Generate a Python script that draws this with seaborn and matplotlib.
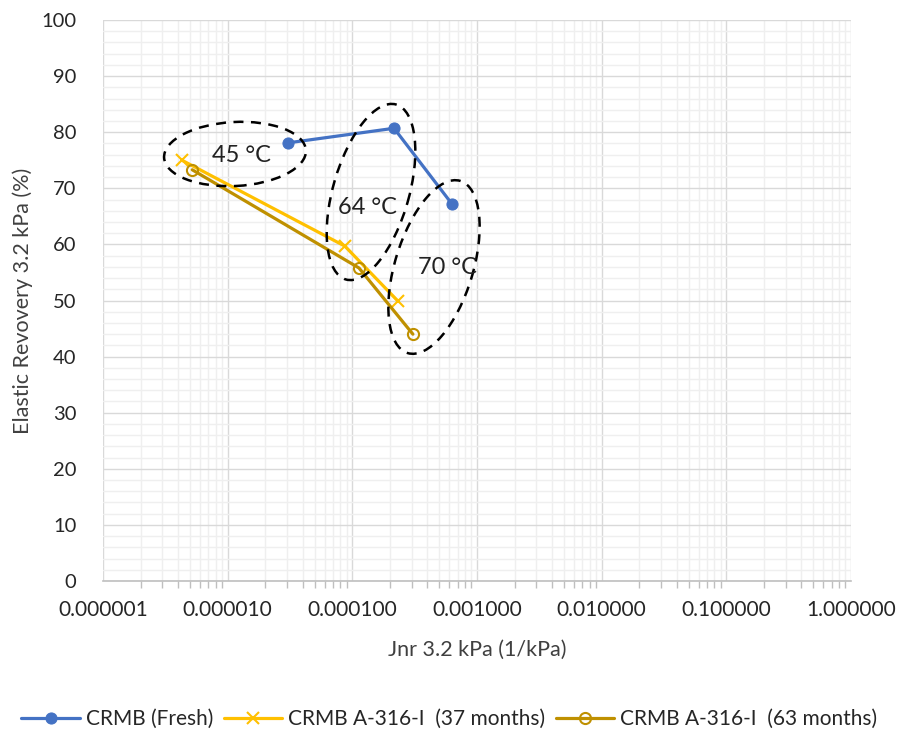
import numpy as np
import pandas as pd
import matplotlib
matplotlib.use("Agg")
import matplotlib.pyplot as plt
import seaborn as sns
from matplotlib.patches import Ellipse
from matplotlib.transforms import IdentityTransform
from matplotlib.ticker import LogLocator, FixedLocator, FuncFormatter

# ---- data ----
series_names = ["CRMB (Fresh)", "CRMB A-316-I  (37 months)", "CRMB A-316-I  (63 months)"]
jnr_fresh = [3.05e-5, 2.16e-4, 6.3e-4]
er_fresh = [78.1, 80.7, 67.2]
jnr_37 = [4.3e-6, 8.7e-5, 2.32e-4]
er_37 = [75.0, 59.7, 49.9]
jnr_63 = [5.2e-6, 1.13e-4, 3.06e-4]
er_63 = [73.3, 55.8, 44.0]
temps = ["45 °C", "64 °C", "70 °C"]
x_ticks = [1e-6, 1e-5, 1e-4, 1e-3, 1e-2, 1e-1, 1e0]
x_tick_labels = ["0.000001", "0.000010", "0.000100", "0.001000", "0.010000", "0.100000", "1.000000"]
y_ticks = list(range(0, 101, 10))

sns.set_theme(style="white")
plt.rcParams['font.family'] = ['Lato', 'DejaVu Sans']

W, H = 899, 738
fig = plt.figure(figsize=(W / 100, H / 100), dpi=100)
ax = fig.add_axes([103 / W, 1 - 581 / H, (851 - 103) / W, (581 - 20) / H])

colors = ["#4472C4", "#FFC000", "#BF9000"]
df_f = pd.DataFrame({"x": jnr_fresh, "y": er_fresh})
df_37 = pd.DataFrame({"x": jnr_37, "y": er_37})
df_63 = pd.DataFrame({"x": jnr_63, "y": er_63})

sns.lineplot(data=df_f, x="x", y="y", ax=ax, sort=False, color=colors[0], lw=2.3,
             marker="o", markersize=8, markeredgecolor=colors[0], label=series_names[0], zorder=5)
sns.lineplot(data=df_37, x="x", y="y", ax=ax, sort=False, color=colors[1], lw=2.3,
             marker="x", markersize=8, markeredgewidth=1.5, markeredgecolor=colors[1],
             label=series_names[1], zorder=5)
sns.lineplot(data=df_63, x="x", y="y", ax=ax, sort=False, color=colors[2], lw=2.3,
             marker="o", markersize=8, markerfacecolor="none", markeredgewidth=1.5,
             markeredgecolor=colors[2], label=series_names[2], zorder=5)

ax.set_xscale("log")
ax.set_xlim(1e-6, 1)
ax.set_ylim(0, 100)
ax.xaxis.set_major_locator(FixedLocator(x_ticks))
ax.xaxis.set_major_formatter(FuncFormatter(lambda v, p: x_tick_labels[x_ticks.index(v)] if v in x_ticks else ""))
ax.xaxis.set_minor_locator(LogLocator(base=10, subs=np.arange(2, 10), numticks=100))
ax.xaxis.set_minor_formatter(FuncFormatter(lambda v, p: ""))
ax.yaxis.set_major_locator(FixedLocator(y_ticks))
ax.yaxis.set_minor_locator(FixedLocator(list(range(0, 101, 2))))

ax.grid(True, which="major", color="#D9D9D9", lw=1.0, zorder=0)
ax.grid(True, which="minor", color="#EFEFEF", lw=1.0, zorder=0)
ax.set_axisbelow(True)
for s in ["top", "right", "left"]:
    ax.spines[s].set_visible(False)
ax.spines["bottom"].set_color("#BFBFBF")
ax.spines["bottom"].set_linewidth(1.2)
ax.tick_params(axis="x", which="both", bottom=True, direction="out", color="#BFBFBF",
               length=5, width=1, labelsize=15, pad=14)
ax.tick_params(axis="x", which="major", length=0)
ax.tick_params(axis="y", which="both", left=False, labelsize=14.5, pad=13)
ax.set_xlabel("Jnr 3.2 kPa (1/kPa)", fontsize=15.5, color="#404040", labelpad=14)
ax.set_ylabel("Elastic Revovery 3.2 kPa (%)", fontsize=15.5, color="#404040", labelpad=6)
for lab in ax.get_xticklabels() + ax.get_yticklabels():
    lab.set_color("#262626")

# dashed ellipses (pixel space, y from bottom)
ell_specs = [((235, 154), 142, 64, 3), ((371, 192), 182, 76, 74), ((434, 267), 180, 78, 73)]
for (cx, cy), w, h, ang in ell_specs:
    e = Ellipse((cx, H - cy), w, h, angle=ang, transform=IdentityTransform(), fill=False,
                edgecolor="black", lw=1.8, ls=(0, (4, 3)), zorder=6)
    fig.add_artist(e)

label_pos = [(241, 155), (367, 207), (447, 268)]
for t, (px, py) in zip(temps, label_pos):
    fig.text(px / W, 1 - py / H, t, fontsize=17, ha="center", va="center", color="#222222", zorder=7)

ax.legend_.remove()
handles, labels = ax.get_legend_handles_labels()
fig.legend(handles, labels, loc="center", bbox_to_anchor=(0.5, 1 - 719 / H), ncol=3, frameon=False,
           fontsize=15, handlelength=2.8, columnspacing=0.5, handletextpad=0.3)

fig.savefig("out.png", dpi=100)
